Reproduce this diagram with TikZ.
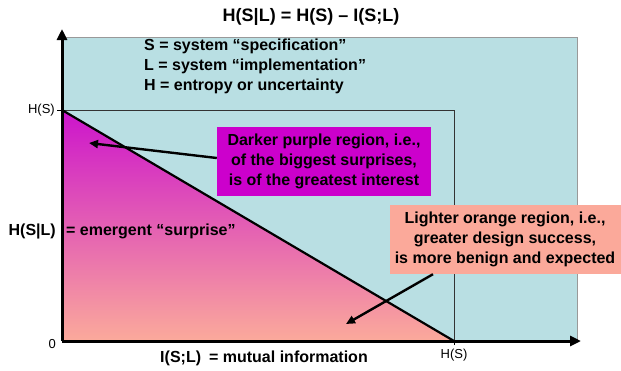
\documentclass[tikz,border=0pt]{standalone}
\usepackage{fontspec}
\setmainfont{Liberation Sans}
\definecolor{skyteal}{RGB}{185, 223, 227}
\definecolor{boxpurple}{RGB}{204, 0, 204}
\definecolor{boxsalmon}{RGB}{251, 169, 154}
\definecolor{shadetop}{RGB}{204, 20, 204}
\definecolor{shademid}{RGB}{228, 128, 184}
\definecolor{shadebot}{RGB}{251, 170, 155}
\usetikzlibrary{arrows.meta, positioning}

\begin{document}
\begin{tikzpicture}[x=1pt, y=-1pt]
  \useasboundingbox (0,0) rectangle (621,370);

  % Points of the plot
  \coordinate (origin) at (62,341);
  \coordinate (ytop) at (62,29);
  \coordinate (xend) at (581,341);
  \coordinate (hsy) at (62,110);
  \coordinate (hsx) at (454,341);
  \coordinate (corner) at (454,110);

  % Background
  \fill[skyteal, draw=gray!80, line width=0.8pt] (62,37) rectangle (577,341);

  % Surprise region
  \shade[top color=shadetop, middle color=shademid, bottom color=shadebot] (hsy) -- (hsx) -- (origin) -- cycle;
  \draw[line width=0.8pt, black!80] (hsy) -- (corner) -- (hsx);
  \draw[line width=2.2pt] (hsy) -- (hsx);

  % Axes
  \draw[line width=3pt, -{Triangle[length=11pt, width=10pt]}] (origin) -- (ytop);
  \draw[line width=3pt, -{Triangle[length=11pt, width=10pt]}] (origin) -- (xend);
  \draw[line width=0.8pt] (hsy) -- ++(-5,0);
  \draw[line width=0.8pt] (hsx) -- ++(0,4);

  % Axis labels
  \node[font=\fontsize{13}{15}\selectfont, anchor=east, inner sep=0pt] (hslabel) at (55,110) {H(S)};
  \node[font=\fontsize{13}{15}\selectfont, anchor=east, inner sep=0pt] (zero) at (56,344) {0};
  \node[font=\fontsize{13}{15}\selectfont, inner sep=0pt] (hsxlabel) at (454,355) {H(S)};
  \node[font=\fontsize{16}{20}\selectfont\bfseries, inner sep=0pt] (mutual) at (264,358) {I(S;L)\enspace= mutual information};
  \node[font=\fontsize{16}{20}\selectfont\bfseries, anchor=east, inner sep=0pt] (hsl) at (56,231) {H(S|L)};
  \node[font=\fontsize{16}{20}\selectfont\bfseries, anchor=west, inner sep=0pt] (emergent) at (66,231) {= emergent “surprise”};

  % Title and legend
  \node[font=\fontsize{18}{22}\selectfont\bfseries, inner sep=0pt] (title) at (311,17) {H(S|L) = H(S) – I(S;L)};
  \node[font=\fontsize{16}{20}\selectfont\bfseries, anchor=west, align=left, inner sep=0pt] (legend) at (144,66) {
    S = system “specification”\\
    L = system “implementation”\\
    H = entropy or uncertainty
  };

  % Callouts
  \node[fill=boxpurple, minimum width=214pt, minimum height=69pt, inner sep=0pt, align=center, font=\fontsize{16}{20}\selectfont\bfseries] (purplebox) at (324,161.5) {
    Darker purple region, i.e.,\\
    of the biggest surprises,\\
    is of the greatest interest
  };
  \node[fill=boxsalmon, minimum width=231pt, minimum height=69pt, inner sep=0pt, align=center, font=\fontsize{16}{20}\selectfont\bfseries] (orangebox) at (505,239.5) {
    Lighter orange region, i.e.,\\
    greater design success,\\
    is more benign and expected
  };
  \coordinate (purpletip) at (89,143);
  \coordinate (orangetip) at (346,324);
  \draw[line width=2.4pt, -{Triangle[length=9pt, width=8pt]}] (purplebox.west |- 0,158) -- (purpletip);
  \draw[line width=2.4pt, -{Triangle[length=9pt, width=8pt]}] (orangebox.south -| 433,0) -- (orangetip);
\end{tikzpicture}
\end{document}
